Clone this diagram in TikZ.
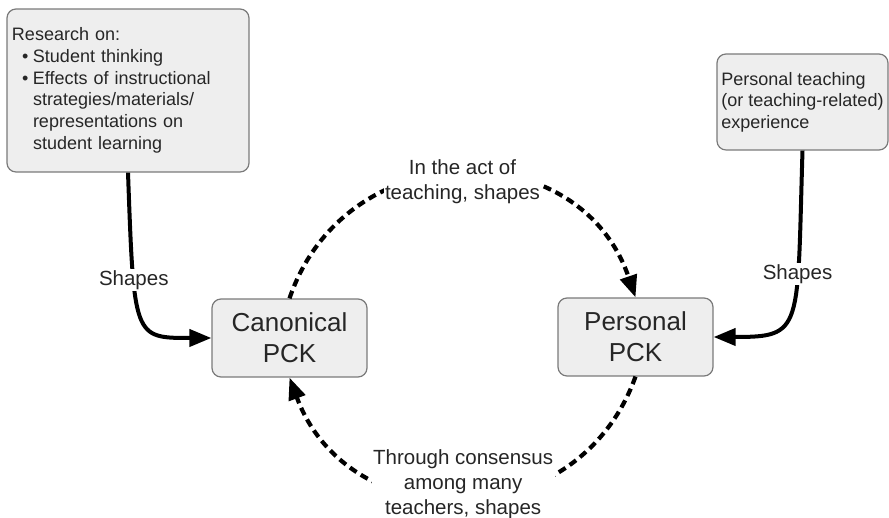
\documentclass[tikz,border=0pt]{standalone}
\usepackage{fontspec}
\setmainfont{Liberation Sans}
\usetikzlibrary{arrows.meta}
\definecolor{boxfill}{HTML}{EEEEEE}
\definecolor{boxline}{HTML}{7A7A7A}
\definecolor{txt}{HTML}{262626}
\begin{document}
\begin{tikzpicture}[x=1pt,y=1pt,
  box/.style={draw=boxline, line width=1.2pt, fill=boxfill, rounded corners=9pt, text=txt},
  lbl/.style={fill=white, text=txt, font=\fontsize{20.5}{25}\selectfont, align=center, inner sep=1.5pt},
  solidarrow/.style={line width=4pt, -{Triangle[length=22pt,width=17pt]}},
  dasharrow/.style={line width=4.2pt, dash pattern=on 8pt off 5pt, -{Triangle[length=22pt,width=17pt]}}]
\useasboundingbox (0,0) rectangle (889,518);

\node[box, text width=232pt, inner xsep=5pt, minimum height=163pt, align=left,
      font=\fontsize{18}{21.7}\selectfont] (res) at (128,427.5)
  {Research on:\\
   \hspace*{10pt}\makebox[11pt][l]{\textbullet}Student thinking\\
   \hspace*{10pt}\makebox[11pt][l]{\textbullet}Effects of instructional\\
   \hspace*{21pt}strategies/materials/\\
   \hspace*{21pt}representations on\\
   \hspace*{21pt}student learning};

\node[box, minimum width=171pt, minimum height=96pt, align=left,
      font=\fontsize{18}{21.5}\selectfont] (pt) at (802.5,416)
  {Personal teaching\\(or teaching-related)\\experience};

\node[box, minimum width=155pt, minimum height=78pt, align=center,
      font=\fontsize{26}{31}\selectfont] (can) at (289.5,180) {Canonical\\PCK};
\node[box, minimum width=155pt, minimum height=78pt, align=center,
      font=\fontsize{26}{31}\selectfont] (per) at (635.5,181) {Personal\\PCK};

\draw[solidarrow] (res.south) .. controls +(6,-165.5) and +(-78,0) .. (can.west)
  node[lbl, pos=0.295] {Shapes};
\draw[solidarrow] (pt.south) .. controls +(-5.5,-180) and +(90,0) .. (per.east)
  node[lbl, pos=0.315] {Shapes};

\draw[dasharrow] (can.north) .. controls +(71.2:174.7) and +(108.8:174.7) .. (per.north)
  node[lbl, pos=0.5, yshift=-8pt] {In the act of\\teaching, shapes};
\draw[dasharrow] (per.south) .. controls +(-109.7:171.8) and +(-69.7:171.8) .. (can.south)
  node[lbl, pos=0.5, yshift=13.5pt] {Through consensus\\among many\\teachers, shapes};
\end{tikzpicture}
\end{document}
